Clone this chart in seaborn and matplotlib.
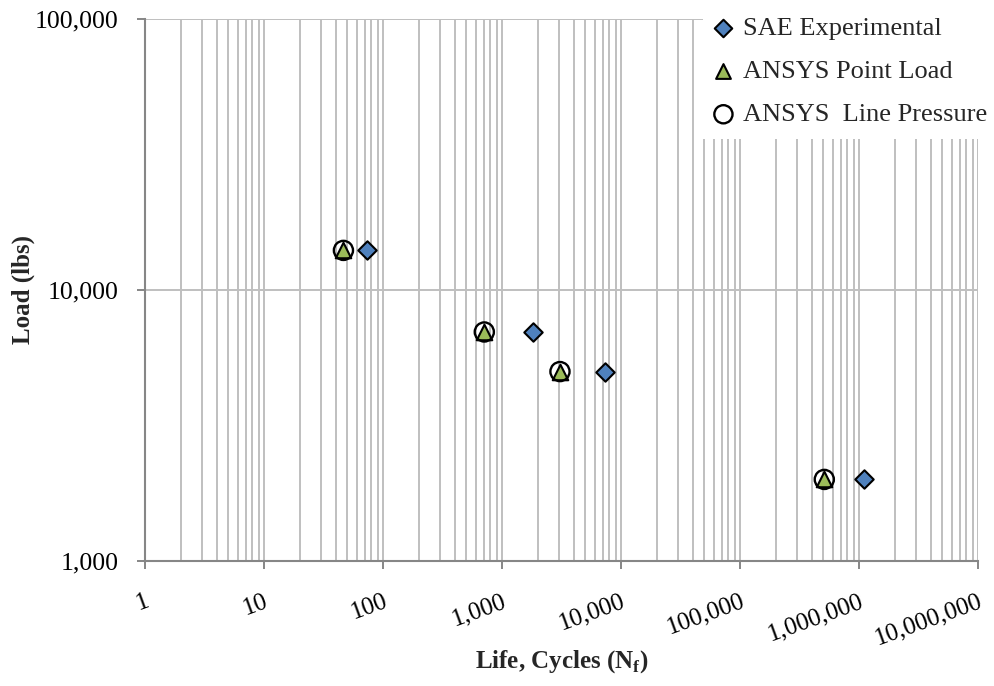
import matplotlib
matplotlib.use("Agg")
import matplotlib.pyplot as plt
import matplotlib.ticker as mticker
import seaborn as sns
import pandas as pd
import numpy as np

# Data
loads = [14000, 7000, 5000, 2000]
sae_life = [73, 1830, 7350, 1100000]
ansys_point_life = [46.5, 710, 3070, 511000]
ansys_line_life = [46.5, 710, 3070, 511000]
series_names = ["SAE Experimental", "ANSYS Point Load", "ANSYS  Line Pressure"]
x_ticks = [1, 10, 100, 1000, 10000, 100000, 1000000, 10000000]
y_ticks = [1000, 10000, 100000]

sns.set_theme(style="white")
plt.rcParams['font.family'] = ['Liberation Serif', 'DejaVu Serif']
plt.rcParams['mathtext.fontset'] = 'custom'
plt.rcParams['mathtext.rm'] = 'Liberation Serif'
plt.rcParams['mathtext.bf'] = 'Liberation Serif:bold'

fig = plt.figure(figsize=(9.95, 6.86), dpi=100)
ax = fig.add_axes([145/995, 1-561/686, (978-145)/995, (561-19)/686])

df_sae = pd.DataFrame({"life": sae_life, "load": loads})
df_pt = pd.DataFrame({"life": ansys_point_life, "load": loads})
df_ln = pd.DataFrame({"life": ansys_line_life, "load": loads})

sns.scatterplot(data=df_sae, x="life", y="load", marker="D", s=88,
                color="#4F81BD", edgecolor="black", linewidth=1.5,
                label=series_names[0], ax=ax, zorder=5)
sns.scatterplot(data=df_pt, x="life", y="load", marker="^", s=125,
                color="#9BBB59", edgecolor="black", linewidth=1.5,
                label=series_names[1], ax=ax, zorder=5)
sns.scatterplot(data=df_ln, x="life", y="load", marker="o", s=190,
                facecolors="none", edgecolor="black", linewidth=1.7,
                label=series_names[2], ax=ax, zorder=6)

ax.set_xscale("log")
ax.set_yscale("log")
ax.set_xlim(1, 1e7)
ax.set_ylim(1000, 100000)

ax.set_xticks(x_ticks)
ax.set_yticks(y_ticks)
ax.xaxis.set_minor_locator(mticker.LogLocator(base=10, subs=np.arange(2, 10), numticks=100))
ax.yaxis.set_minor_locator(mticker.NullLocator())
ax.set_xticklabels([f"{v:,}" for v in x_ticks], rotation=20, ha="right",
                   rotation_mode="anchor", fontsize=18)
ax.set_yticklabels([f"{v:,}" for v in y_ticks], fontsize=18.5)
ax.xaxis.set_minor_formatter(mticker.NullFormatter())

grid_c = "#BFBFBF"
ax.grid(True, which="major", axis="both", color=grid_c, linewidth=1.4)
ax.grid(True, which="minor", axis="x", color=grid_c, linewidth=1.4)
ax.set_axisbelow(True)

for side in ["top", "right"]:
    ax.spines[side].set_visible(False)
for side in ["left", "bottom"]:
    ax.spines[side].set_color("#868686")
    ax.spines[side].set_linewidth(1.5)

ax.tick_params(axis="both", which="major", direction="out", length=6, width=1.4,
               color="#868686", labelcolor="black", bottom=True, left=True)
ax.tick_params(axis="x", which="major", pad=15)
ax.tick_params(axis="y", which="major", pad=13)
ax.tick_params(axis="x", which="minor", length=0)

ax.set_xlabel(r"Life, Cycles (N$_\mathbf{f}$)", fontsize=18, fontweight="bold", labelpad=-1)
ax.set_ylabel("Load (lbs)", fontsize=18, fontweight="bold", labelpad=0)

leg = ax.legend(loc="upper right", bbox_to_anchor=(1.0 + 5/995, 1.0 - 3/686),
                bbox_transform=fig.transFigure,
                borderaxespad=0, frameon=True, fancybox=False, framealpha=1,
                facecolor="white", edgecolor="none", fontsize=19,
                handletextpad=0.45, labelspacing=0.75, borderpad=0.5,
                handlelength=0.55, markerscale=0.95)
leg.set_zorder(10)

fig.savefig("out.png", dpi=100)
